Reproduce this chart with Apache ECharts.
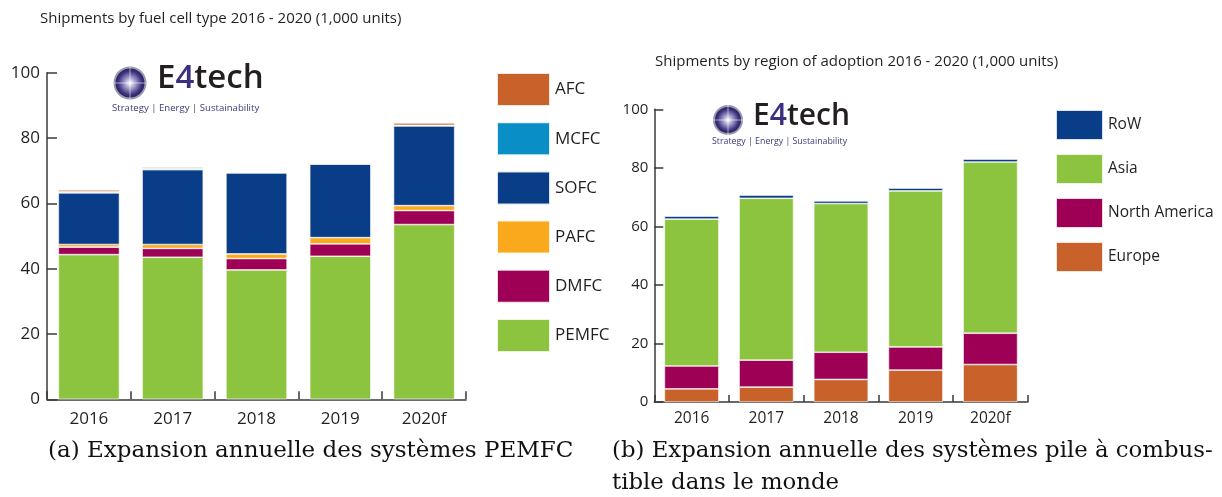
<!DOCTYPE html>
<html>
<head>
<meta charset="utf-8">
<script src="https://cdn.jsdelivr.net/npm/echarts@6/dist/echarts.min.js"></script>
<style>
html,body{margin:0;padding:0;background:#fff;}
#c{width:1222px;height:497px;}
</style>
</head>
<body>
<div id="c"></div>
<script>
// ---- Data ----
const years = ['2016', '2017', '2018', '2019', '2020f'];
const yTicks = [0, 20, 40, 60, 80, 100];

// Chart (a): shipments by fuel cell type (1,000 units)
const typeNames = ['PEMFC', 'DMFC', 'PAFC', 'SOFC', 'MCFC', 'AFC'];
const pemfc = [44.3, 43.5, 39.6, 43.8, 53.5];
const dmfc  = [2.3, 2.7, 3.5, 3.8, 4.3];
const pafc  = [0.8, 1.2, 1.4, 1.9, 1.5];
const sofc  = [15.8, 22.9, 24.8, 22.5, 24.4];
const mcfc  = [0.3, 0.4, 0.2, 0.2, 0.2];
const afc   = [0.6, 0.4, 0.1, 0.1, 0.7];

// Chart (b): shipments by region of adoption (1,000 units)
const regionNames = ['Europe', 'North America', 'Asia', 'RoW'];
const europe = [4.5, 5.1, 7.7, 10.9, 12.8];
const northAmerica = [7.8, 9.2, 9.3, 7.9, 10.7];
const asia = [50.2, 55.3, 50.8, 53.3, 58.5];
const row = [1.0, 1.1, 0.9, 1.0, 1.0];

const titleA = 'Shipments by fuel cell type 2016 - 2020 (1,000 units)';
const titleB = 'Shipments by region of adoption 2016 - 2020 (1,000 units)';
const captionA = '(a) Expansion annuelle des systèmes PEMFC';
const captionB1 = '(b) Expansion annuelle des systèmes pile à combus-';
const captionB2 = 'tible dans le monde';

// ---- Styles ----
const C = {
  green: '#8cc43f', magenta: '#9e0055', yellow: '#f9a91b',
  navy: '#0a3d87', cyan: '#0a8ec6', orange: '#c8622a'
};
const sans = '"Open Sans", "Noto Sans", sans-serif';
const serif = '"DejaVu Serif", serif';
const axisColor = '#3a3a3a';
const txt = '#231f20';

const chart = echarts.init(document.getElementById('c'), null, {renderer: 'canvas'});

function stackSeries(name, data, color, xi, stack) {
  return {
    name: name, type: 'bar', stack: stack, data: data,
    xAxisIndex: xi, yAxisIndex: xi,
    barCategoryGap: '27%',
    itemStyle: {color: color, borderColor: 'rgba(255,255,255,0.85)', borderWidth: 0.7},
    emphasis: {disabled: true}
  };
}

function logo(cx, cy, r, textX, fontSize, tagY, tagX, tagSize) {
  const grad = new echarts.graphic.RadialGradient(0.5, 0.5, 0.5, [
    {offset: 0, color: '#ffffff'},
    {offset: 0.35, color: '#a9a3d0'},
    {offset: 0.8, color: '#3d3580'},
    {offset: 1, color: '#28215e'}
  ]);
  return [
    {type: 'circle', shape: {cx: cx, cy: cy, r: r}, style: {fill: '#9a97b0'}},
    {type: 'circle', shape: {cx: cx, cy: cy, r: r - 2}, style: {fill: grad}},
    {type: 'line', shape: {x1: cx - r, y1: cy, x2: cx + r, y2: cy}, style: {stroke: 'rgba(255,255,255,0.55)', lineWidth: 1}},
    {type: 'line', shape: {x1: cx, y1: cy - r, x2: cx, y2: cy + r}, style: {stroke: 'rgba(255,255,255,0.55)', lineWidth: 1}},
    {type: 'text', left: textX, top: cy - fontSize * 0.62,
      style: {text: '{a|E}{b|4}{a|tech}', rich: {
        a: {fontSize: fontSize, fontFamily: sans, fill: '#231f20', fontWeight: 600},
        b: {fontSize: fontSize, fontFamily: sans, fill: '#3a2f80', fontWeight: 600}
      }}},
    {type: 'text', left: tagX, top: tagY - tagSize * 0.6,
      style: {text: 'Strategy | Energy | Sustainability', fontSize: tagSize, fontFamily: sans, fill: '#3b3a78'}}
  ];
}

const option = {
  animation: false,
  backgroundColor: '#fff',
  textStyle: {fontFamily: sans},
  title: [
    {text: titleA, left: 40, top: 11, padding: 0, textStyle: {fontSize: 15, fontWeight: 'normal', color: txt, fontFamily: sans}},
    {text: titleB, left: 655, top: 54, padding: 0, textStyle: {fontSize: 15, fontWeight: 'normal', color: txt, fontFamily: sans}}
  ],
  legend: [
    {
      orient: 'vertical', left: 496, top: 72, padding: 0,
      data: ['AFC', 'MCFC', 'SOFC', 'PAFC', 'DMFC', 'PEMFC'],
      icon: 'rect', itemWidth: 53, itemHeight: 33, itemGap: 14.2,
      textStyle: {fontSize: 17, color: txt, fontFamily: sans},
      selectedMode: false
    },
    {
      orient: 'vertical', left: 1055, top: 109, padding: 0,
      data: ['RoW', 'Asia', 'North America', 'Europe'],
      icon: 'rect', itemWidth: 47, itemHeight: 30, itemGap: 12,
      textStyle: {fontSize: 15.5, color: txt, fontFamily: sans},
      selectedMode: false
    }
  ],
  grid: [
    {left: 47, right: 756, top: 72.7, bottom: 97.7, containLabel: false},
    {left: 654.3, right: 194.3, top: 109.3, bottom: 95, containLabel: false}
  ],
  xAxis: [
    {
      type: 'category', gridIndex: 0, data: years,
      axisLine: {lineStyle: {color: axisColor, width: 1.5}},
      axisTick: {show: true, inside: true, length: 8, alignWithLabel: false, lineStyle: {color: axisColor, width: 1.5}},
      axisLabel: {fontSize: 17, color: txt, margin: 11, fontFamily: sans}
    },
    {
      type: 'category', gridIndex: 1, data: years,
      axisLine: {lineStyle: {color: axisColor, width: 1.5}},
      axisTick: {show: true, inside: true, length: 7, alignWithLabel: false, lineStyle: {color: axisColor, width: 1.5}},
      axisLabel: {fontSize: 15.5, color: txt, margin: 9, fontFamily: sans}
    }
  ],
  yAxis: [
    {
      type: 'value', gridIndex: 0, min: yTicks[0], max: yTicks[yTicks.length - 1], interval: 20,
      axisLine: {show: true, lineStyle: {color: axisColor, width: 1.5}},
      axisTick: {show: true, inside: true, length: 10, lineStyle: {color: axisColor, width: 1.5}},
      splitLine: {show: false},
      axisLabel: {fontSize: 17, color: txt, margin: 7, fontFamily: sans}
    },
    {
      type: 'value', gridIndex: 1, min: yTicks[0], max: yTicks[yTicks.length - 1], interval: 20,
      axisLine: {show: true, lineStyle: {color: axisColor, width: 1.5}},
      axisTick: {show: true, inside: true, length: 9, lineStyle: {color: axisColor, width: 1.5}},
      splitLine: {show: false},
      axisLabel: {fontSize: 15, color: txt, margin: 6, fontFamily: sans}
    }
  ],
  series: [
    stackSeries('PEMFC', pemfc, C.green, 0, 'a'),
    stackSeries('DMFC', dmfc, C.magenta, 0, 'a'),
    stackSeries('PAFC', pafc, C.yellow, 0, 'a'),
    stackSeries('SOFC', sofc, C.navy, 0, 'a'),
    stackSeries('MCFC', mcfc, C.cyan, 0, 'a'),
    stackSeries('AFC', afc, C.orange, 0, 'a'),
    stackSeries('Europe', europe, C.orange, 1, 'b'),
    stackSeries('North America', northAmerica, C.magenta, 1, 'b'),
    stackSeries('Asia', asia, C.green, 1, 'b'),
    stackSeries('RoW', row, C.navy, 1, 'b')
  ],
  graphic: [
    ...logo(130, 83, 16.5, 157, 33, 109, 112, 9.6),
    ...logo(728, 120, 15, 753, 30, 142.5, 712, 8.8),
    {type: 'text', left: 48, top: 440, style: {text: captionA, fontSize: 23, fontFamily: serif, fill: '#111'}},
    {type: 'text', left: 612, top: 440, style: {text: captionB1, fontSize: 22.8, fontFamily: serif, fill: '#111'}},
    {type: 'text', left: 612, top: 472, style: {text: captionB2, fontSize: 22.8, fontFamily: serif, fill: '#111'}}
  ]
};
chart.setOption(option);
</script>
</body>
</html>
